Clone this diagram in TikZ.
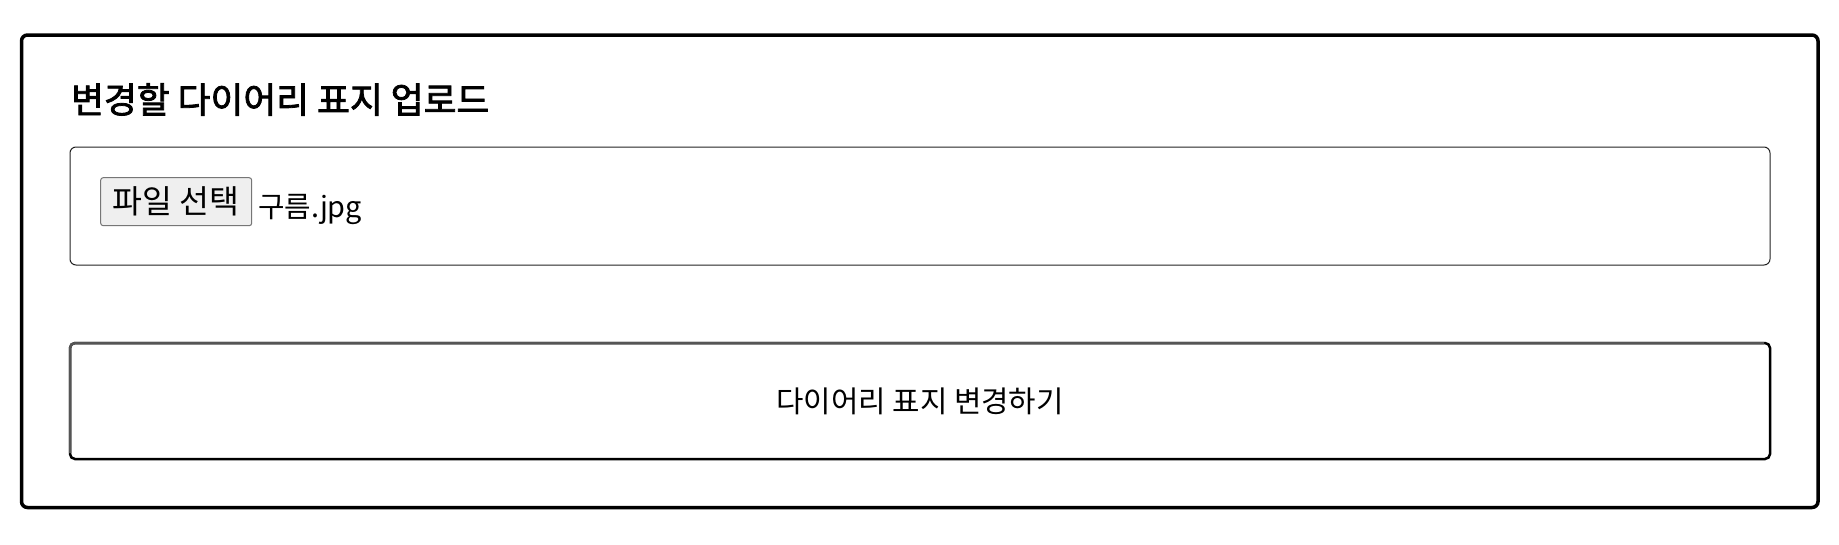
\documentclass[tikz,border=0pt]{standalone}
\usepackage{fontspec}
\setmainfont{Noto Sans CJK KR}
\newfontfamily\titlefamily[FakeBold=2.2]{Noto Sans CJK KR}
\usetikzlibrary{calc}
\definecolor{edgegray}{HTML}{555555}
\definecolor{choosegray}{HTML}{767676}
\definecolor{choosefill}{HTML}{EFEFEF}
\definecolor{boxline}{HTML}{222222}
\tikzset{
  panel/.style={draw=black, line width=3.5pt, rounded corners=6pt, inner sep=0, outer sep=0, anchor=north west},
  fieldbox/.style={draw=boxline, line width=1pt, rounded corners=6pt, inner sep=0, outer sep=0, anchor=north west},
  choosebtn/.style={draw=choosegray, fill=choosefill, line width=1pt, rounded corners=2.5pt, inner sep=0, outer sep=0, font=\fontsize{32.5}{38}\selectfont},
  submitbtn/.style={draw=black, line width=2.5pt, rounded corners=5pt, inner sep=0, outer sep=0, font=\fontsize{29.8}{35}\selectfont},
  titletext/.style={inner sep=0, anchor=base west, font=\titlefamily\fontsize{35.7}{42}\selectfont},
  filetext/.style={inner sep=0, anchor=base west, font=\fontsize{28.8}{34}\selectfont},
}
\begin{document}
\begin{tikzpicture}[x=1pt,y=-1pt]
\useasboundingbox (0,0) rectangle (1839,544);
\fill[white] (0,0) rectangle (1839,544);
\node[panel, minimum width=1796.5pt, minimum height=472.5pt] (outer) at (21.5,35) {};
\node[titletext] (title) at (71,113) {변경할 다이어리 표지 업로드};
\node[fieldbox, minimum width=1700pt, minimum height=118pt] (filebox) at (70,147) {};
\node[choosebtn, minimum width=151pt, minimum height=48pt] (choose) at (176.2,201.7) {파일 선택};
\node[filetext] (filename) at (258,217) {구름.jpg};
\node[submitbtn, minimum width=1700pt, minimum height=116pt] (submit) at (920,401) {다이어리 표지 변경하기};
\draw[edgegray, line width=2.5pt, rounded corners=5pt]
  ($(submit.south west)+(0,-6)$) -- (submit.north west) -- ($(submit.north east)+(-6,0)$);
\end{tikzpicture}
\end{document}
